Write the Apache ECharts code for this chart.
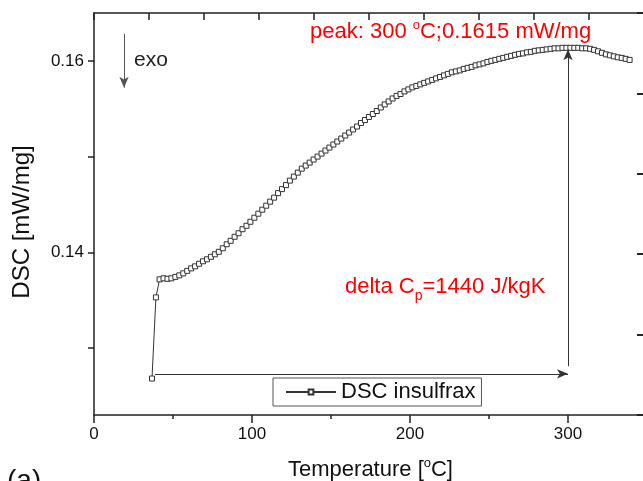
<!DOCTYPE html>
<html>
<head>
<meta charset="utf-8">
<script src="https://cdn.jsdelivr.net/npm/echarts@6/dist/echarts.min.js"></script>
<style>
  html, body { margin: 0; padding: 0; background: #fff; }
  #chart { width: 643px; height: 481px; }
</style>
</head>
<body>
<div id="chart"></div>
<script>
// temperature in °C
const temperature = [36.7, 39.2, 41.5, 44, 46.5, 49, 51.5, 54, 56.5, 59, 61.5, 64, 66.5, 69, 71.5, 74, 76.5, 79, 81.5, 84,
  86.5, 89, 91.5, 94, 96.5, 99, 101.5, 104, 106.5, 109, 111.5, 114, 116.5, 119, 121.5, 124, 126.5, 129, 131.5, 134,
  136.5, 139, 141.5, 144, 146.5, 149, 151.5, 154, 156.5, 159, 161.5, 164, 166.5, 169, 171.5, 174, 176.5, 179, 181.5, 184,
  186.5, 189, 191.5, 194, 196.5, 199, 201.5, 204, 206.5, 209, 211.5, 214, 216.5, 219, 221.5, 224, 226.5, 229, 231.5, 234,
  236.5, 239, 241.5, 244, 246.5, 249, 251.5, 254, 256.5, 259, 261.5, 264, 266.5, 269, 271.5, 274, 276.5, 279, 281.5, 284,
  286.5, 289, 291.5, 294, 296.5, 299, 301.5, 304, 306.5, 309, 311.5, 314, 316.5, 319, 321.5, 324, 326.5, 329, 331.5, 334,
  336.5, 339];

// DSC signal in mW/mg
const dsc = [0.12681, 0.13529, 0.13717, 0.13728, 0.13723, 0.13728, 0.13743, 0.13759, 0.1378, 0.13806, 0.13832, 0.13853, 0.1388, 0.13906, 0.13927, 0.13953, 0.13979, 0.14005, 0.14042, 0.14084,
  0.1412, 0.14162, 0.14199, 0.14241, 0.14277, 0.14319, 0.14361, 0.14403, 0.14445, 0.14487, 0.14529, 0.14571, 0.14618, 0.1466, 0.14702, 0.14749, 0.14791, 0.14832, 0.14874, 0.14906,
  0.14937, 0.14969, 0.15, 0.15031, 0.15063, 0.15094, 0.15126, 0.15157, 0.15188, 0.1522, 0.15251, 0.15283, 0.15314, 0.15351, 0.15382, 0.15414, 0.15445, 0.15476, 0.15513, 0.15545,
  0.15576, 0.15607, 0.15634, 0.15654, 0.15681, 0.15702, 0.15723, 0.15738, 0.15754, 0.1577, 0.15785, 0.15801, 0.15817, 0.15832, 0.15848, 0.15864, 0.1588, 0.1589, 0.159, 0.15916,
  0.15927, 0.15937, 0.15953, 0.15963, 0.15974, 0.15989, 0.16, 0.1601, 0.16021, 0.16031, 0.16042, 0.16052, 0.16063, 0.16073, 0.16078, 0.16089, 0.16094, 0.16105, 0.1611, 0.16115,
  0.1612, 0.16126, 0.16131, 0.16131, 0.16136, 0.16136, 0.16136, 0.16136, 0.16136, 0.16131, 0.16131, 0.16126, 0.16115, 0.161, 0.16084, 0.16068, 0.16058, 0.16047, 0.16037, 0.16031,
  0.16021, 0.1601];

const yLabels = [0.14, 0.16];
const yTicks = [0.13, 0.14, 0.15, 0.16];

// arrows (data coords)
const baseLine = [[38.6, 0.1273], [300, 0.1273]];
const peakLine = [[300, 0.1281], [300, 0.1612]];
const exoArrow = [[19, 0.1628], [19, 0.1572]];

const FONT = 'Liberation Sans';
const AXIS = '#222';

const chart = echarts.init(document.getElementById('chart'));

chart.setOption({
  backgroundColor: '#fff',
  animation: false,
  textStyle: { fontFamily: FONT },
  grid: { left: 94, top: 13, right: -4, bottom: 66, outerBoundsMode: 'none', containLabel: false },
  legend: {
    left: 273, top: 378,
    padding: [3, 6, 3, 12],
    borderColor: '#555', borderWidth: 1,
    itemWidth: 50, itemHeight: 6, itemGap: 5,
    textStyle: { fontSize: 22, color: '#111', fontFamily: FONT },
    data: ['DSC insulfrax']
  },
  xAxis: [{
    type: 'value', min: 0, max: 350, interval: 100,
    axisLine: { onZero: false, lineStyle: { color: AXIS, width: 1.5 } },
    axisTick: { show: true, length: 8, lineStyle: { color: AXIS, width: 1.5 } },
    minorTick: { show: true, splitNumber: 2, length: 4, lineStyle: { color: AXIS, width: 1.5 } },
    splitLine: { show: false },
    axisLabel: { fontSize: 17, color: '#111', margin: 11, fontFamily: FONT, showMaxLabel: false },
    name: 'Temperature [{sup|o}C]',
    nameLocation: 'middle', nameGap: 42,
    nameTextStyle: { fontSize: 22, color: '#111', fontFamily: FONT, lineHeight: 26,
      rich: { sup: { fontSize: 13, verticalAlign: 'top', lineHeight: 26 } } }
  }, {
    type: 'value', position: 'top', min: 0, max: 10.05, interval: 1,
    axisLine: { show: true, onZero: false, lineStyle: { color: AXIS, width: 1.5 } },
    axisTick: { show: true, inside: true, length: 7, lineStyle: { color: AXIS, width: 1.5 } },
    axisLabel: { show: false }, splitLine: { show: false }
  }],
  yAxis: [{
    type: 'value', min: 0.123, max: 0.165,
    axisLine: { show: true, onZero: false, lineStyle: { color: AXIS, width: 1.5 } },
    axisTick: { show: true, length: 6, customValues: yTicks, lineStyle: { color: AXIS, width: 1.5 } },
    splitLine: { show: false },
    axisLabel: { fontSize: 17, color: '#111', margin: 10, fontFamily: FONT, customValues: yLabels,
      formatter: v => v.toFixed(2) },
    name: 'DSC [mW/mg]',
    nameLocation: 'middle', nameGap: 60,
    nameTextStyle: { fontSize: 24, color: '#111', fontFamily: FONT, padding: [0, 16, 0, 0] }
  }, {
    type: 'value', position: 'right', min: 0, max: 10, interval: 2,
    axisLine: { show: true, onZero: false, lineStyle: { color: AXIS, width: 1.5 } },
    axisTick: { show: true, inside: true, length: 10, lineStyle: { color: AXIS, width: 2 } },
    minorTick: { show: true, splitNumber: 2, length: 4, lineStyle: { color: AXIS, width: 1.5 } },
    axisLabel: { show: false }, splitLine: { show: false }
  }],
  series: [{
    name: 'DSC insulfrax',
    type: 'line',
    xAxisIndex: 0, yAxisIndex: 0,
    data: temperature.map((t, i) => [t, dsc[i]]),
    symbol: 'rect', symbolSize: 5,
    showAllSymbol: true,
    lineStyle: { color: '#333', width: 1 },
    itemStyle: { color: '#fff', borderColor: '#333', borderWidth: 1 },
    z: 3,
    markLine: {
      silent: true,
      animation: false,
      symbol: ['none', 'arrow'],
      symbolSize: [7, 11],
      label: { show: false },
      lineStyle: { color: '#333', width: 1, type: 'solid' },
      data: [
        [{ coord: baseLine[0] }, { coord: baseLine[1] }],
        [{ coord: peakLine[0] }, { coord: peakLine[1] }],
        [{ coord: exoArrow[0], lineStyle: { color: '#555' } }, { coord: exoArrow[1] }]
      ]
    }
  }],
  graphic: [
    { type: 'text', left: 310, top: 19,
      style: { text: 'peak: 300 {sup|o}C;0.1615 mW/mg', fill: '#ff0000', font: '22px "Liberation Sans"',
        rich: { sup: { fontSize: 13, verticalAlign: 'top', lineHeight: 26, fill: '#ff0000' } } } },
    { type: 'text', left: 345, top: 276,
      style: { text: 'delta C{sub|p}=1440 J/kgK', fill: '#ff0000', font: '22px "Liberation Sans"',
        rich: { sub: { fontSize: 14, verticalAlign: 'bottom', lineHeight: 32, fill: '#ff0000' } } } },
    { type: 'text', left: 134, top: 50,
      style: { text: 'exo', fill: '#222', font: '21px "Liberation Sans"' } },
    { type: 'text', left: 7, top: 467,
      style: { text: '(a)', fill: '#111', font: '28px "Liberation Sans"' } }
  ]
});
</script>
</body>
</html>
